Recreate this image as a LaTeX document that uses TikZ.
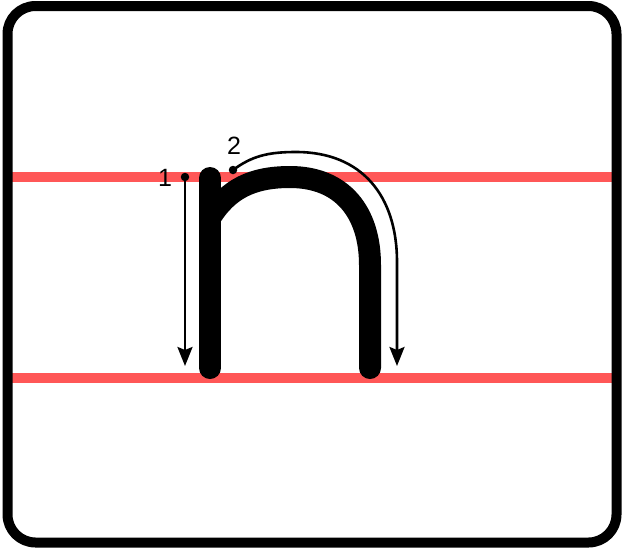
\documentclass[tikz,border=0pt]{standalone}
\usepackage{fontspec}
\setmainfont{Liberation Sans}
\usetikzlibrary{arrows.meta}
\definecolor{guide}{HTML}{FF5757}
\tikzset{
    every picture/.style={line cap=round,line join=round},
    cardframe/.style={draw=black,line width=10pt,rounded corners=28pt},
    guideline/.style={draw=guide,line width=10.5pt,line cap=butt},
    letterstroke/.style={draw=black,line width=22pt,line cap=round},
    strokearrow/.style={-{Stealth[length=19pt,width=15pt,inset=3pt]},draw=black,
      line width=2.6pt},
    startdot/.style={circle,fill=black,minimum size=8.5pt,inner sep=0pt},
    steplabel/.style={font=\fontsize{25}{29}\selectfont,inner sep=0pt}
}
\begin{document}
\begin{tikzpicture}[x=1pt,y=-1pt]
  \useasboundingbox (0,0) rectangle (624,558);
  % writing lines
  \draw[guideline] (8,177) -- (616,177);
  \draw[guideline] (8,378) -- (616,378);

  % the letter
  \draw[letterstroke] (210,178) -- (210,368);
  \draw[letterstroke] (210,218) .. controls (228,189) and (252,177) .. (290,177)
    .. controls (342,177) and (370,212) .. (370,265) -- (370,368);

  % stroke 1
  \node[startdot] (d1) at (185,177) {};
  \node[steplabel] (n1) at (165,178) {1};
  \coordinate (e1) at (185,366);
  \draw[strokearrow] (d1.center) -- (e1);

  % stroke 2
  \node[startdot] (d2) at (233,170) {};
  \node[steplabel] (n2) at (234,146) {2};
  \coordinate (e2) at (397,366);
  \draw[strokearrow] (d2.center) .. controls (252,156) and (268,152) .. (296,152)
    .. controls (362,152) and (397,196) .. (397,262) -- (e2);

  \draw[cardframe] (7.5,6) rectangle (616.5,542.5);
\end{tikzpicture}
\end{document}
